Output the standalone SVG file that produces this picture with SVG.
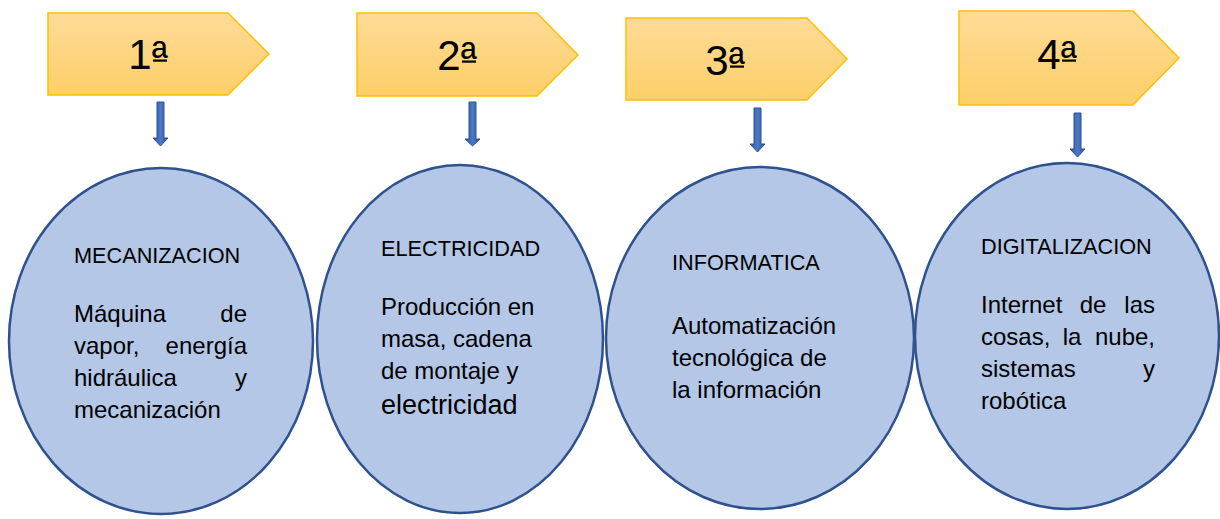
<svg xmlns="http://www.w3.org/2000/svg" width="1220" height="519" viewBox="0 0 1220 519">
<defs>
<linearGradient id="gold" x1="0" y1="0" x2="0" y2="1">
<stop offset="0" stop-color="#FEDB97"/>
<stop offset="1" stop-color="#FDCF68"/>
</linearGradient>
<linearGradient id="arr" x1="0" y1="0" x2="1" y2="0">
<stop offset="0" stop-color="#2F5597"/>
<stop offset="0.5" stop-color="#4A78C8"/>
<stop offset="1" stop-color="#2F5597"/>
</linearGradient>
<style>
.tag{fill:url(#gold);stroke:#FFC000;stroke-width:1.5}
.num{font-family:"Liberation Sans",Arial,sans-serif;font-size:42px;fill:#000}
.ord{font-size:43px}
.ul{fill:#000}
.oval{fill:#B4C7E7;stroke:#2F528F;stroke-width:2.5}
.hd{font-family:"Liberation Sans",Arial,sans-serif;font-size:21.7px;fill:#000}
.bd{font-family:"Liberation Sans",Arial,sans-serif;font-size:24px;fill:#000}
.end{text-anchor:end}
.mid{text-anchor:middle}
.arrow{fill:url(#arr);stroke:#2F528F;stroke-width:1}
</style>
</defs>
<rect width="1220" height="519" fill="#FFFFFF"/>

<g id="tag1">
<polygon class="tag" points="48,13 228,13 269,54 228,95 48,95"/>
<text class="num" x="128.3" y="69">1<tspan class="ord" dy="3">ª</tspan></text>
<rect class="ul" x="153" y="59.5" width="14" height="2.2"/>
</g>
<g id="tag2">
<polygon class="tag" points="357,13 537,13 578,55 537,96 357,96"/>
<text class="num" x="437.3" y="70">2<tspan class="ord" dy="3">ª</tspan></text>
<rect class="ul" x="462" y="60.5" width="14" height="2.2"/>
</g>
<g id="tag3">
<polygon class="tag" points="626,18 807,18 847,59 807,100 626,100"/>
<text class="num" x="705.3" y="75">3<tspan class="ord" dy="3">ª</tspan></text>
<rect class="ul" x="730" y="65.5" width="14" height="2.2"/>
</g>
<g id="tag4">
<polygon class="tag" points="959,11 1133,11 1179,58 1133,105 959,105"/>
<text class="num" x="1037.3" y="69">4<tspan class="ord" dy="3">ª</tspan></text>
<rect class="ul" x="1062" y="59.5" width="14" height="2.2"/>
</g>

<g id="connectors">
<path class="arrow" d="M157,102 H164 V138 H168 L160.5,146 L153,138 H157 Z"/>
<path class="arrow" d="M469,102 H476 V139 H480 L472.5,146 L465,139 H469 Z"/>
<path class="arrow" d="M754,108 H761 V144 H765 L757.5,152 L750,144 H754 Z"/>
<path class="arrow" d="M1074,113 H1081 V149 H1085 L1077.5,157 L1070,149 H1074 Z"/>
</g>

<g id="node1">
<ellipse class="oval" cx="161" cy="341" rx="152" ry="173"/>
<text class="hd" x="74" y="263">MECANIZACION</text>
<text class="bd" x="74" y="322">Máquina</text>
<text class="bd end" x="247" y="322">de</text>
<text class="bd" x="74" y="354">vapor,</text>
<text class="bd end" x="247" y="354">energía</text>
<text class="bd" x="74" y="386">hidráulica</text>
<text class="bd end" x="247" y="386">y</text>
<text class="bd" x="74" y="418">mecanización</text>
</g>

<g id="node2">
<ellipse class="oval" cx="460" cy="339" rx="143" ry="174"/>
<text class="hd" x="381" y="256">ELECTRICIDAD</text>
<text class="bd" x="381" y="315">Producción en</text>
<text class="bd" x="381" y="347">masa, cadena</text>
<text class="bd" x="381" y="379">de montaje y</text>
<text class="bd" x="381" y="414" style="font-size:27px">electricidad</text>
</g>

<g id="node3">
<ellipse class="oval" cx="760" cy="338" rx="154" ry="171"/>
<text class="hd" x="672" y="270">INFORMATICA</text>
<text class="bd" x="672" y="334">Automatización</text>
<text class="bd" x="672" y="366">tecnológica de</text>
<text class="bd" x="672" y="398">la información</text>
</g>

<g id="node4">
<ellipse class="oval" cx="1067" cy="336" rx="152" ry="173"/>
<text class="hd" x="981" y="254">DIGITALIZACION</text>
<text class="bd" x="981" y="313">Internet</text>
<text class="bd mid" x="1093" y="313">de</text>
<text class="bd end" x="1155" y="313">las</text>
<text class="bd" x="981" y="345">cosas,</text>
<text class="bd mid" x="1072" y="345">la</text>
<text class="bd end" x="1155" y="345">nube,</text>
<text class="bd" x="981" y="377">sistemas</text>
<text class="bd end" x="1155" y="377">y</text>
<text class="bd" x="981" y="409">robótica</text>
</g>
</svg>
